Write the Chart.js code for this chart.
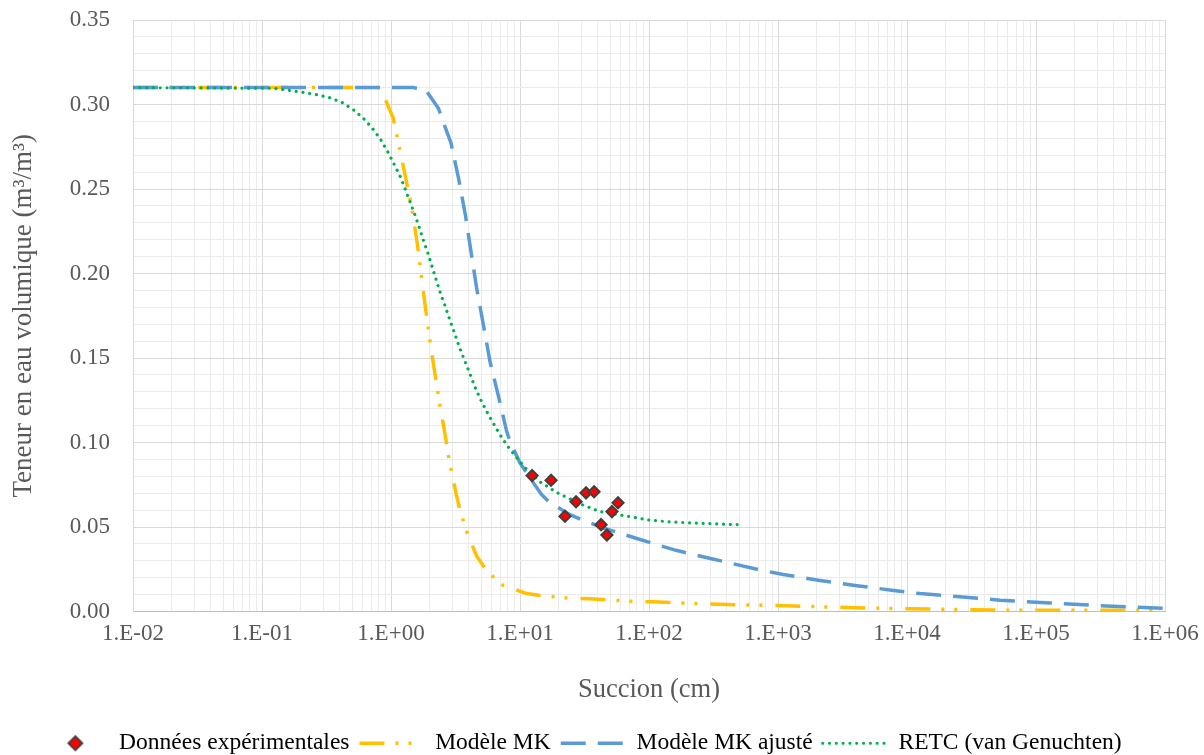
<!DOCTYPE html>
<html lang="fr">
<head>
<meta charset="utf-8">
<title>Courbe de rétention</title>
<script src="https://cdn.jsdelivr.net/npm/chart.js@4.4.0/dist/chart.umd.min.js"></script>
<style>
  body { margin: 0; background: #ffffff; }
  #chart { display: block; }
</style>
</head>
<body>
<canvas id="chart" width="1204" height="755"></canvas>
<script>
// Données expérimentales
const expX = [12.4, 17.4, 22.3, 27.2, 32.5, 37.5, 42.5, 47.2, 51.6, 57.5];
const expY = [0.0804, 0.0776, 0.0563, 0.0649, 0.0702, 0.0708, 0.0514, 0.0453, 0.0591, 0.0643];

// Modèle MK
const mkX = [0.01, 0.1, 0.5, 0.8, 0.88, 1.04, 1.15, 1.21, 1.32, 1.45, 1.6, 1.75, 1.85, 1.97, 2.03, 2.17, 2.34, 2.43, 2.62, 2.82,
  2.96, 3.23, 3.41, 3.66, 3.93, 4.62, 5.28, 6.25, 7.42, 11.3, 14, 22.3, 34.9, 71.3, 107, 219, 343, 684, 1000, 2120,
  3300, 6750, 10200, 52600, 1e6];
const mkY = [0.31, 0.31, 0.31, 0.31, 0.305, 0.292, 0.276, 0.268, 0.254, 0.2387, 0.2176, 0.194, 0.1796, 0.1644, 0.1569, 0.1427, 0.1269, 0.119, 0.1052, 0.0899,
  0.082, 0.0682, 0.0607, 0.053, 0.0455, 0.0327, 0.0262, 0.0203, 0.0154, 0.0106, 0.0096, 0.0081, 0.0075, 0.0061, 0.0057, 0.0047, 0.0043, 0.0037, 0.0035, 0.0028,
  0.0024, 0.0018, 0.0016, 0.0008, 0.0007];

// Modèle MK ajusté
const ajX = [0.01, 1.48, 1.84, 2.33, 2.52, 2.92, 3.35, 3.77, 4.17, 4.61, 5.2, 5.85, 6.79, 7.88, 8.36, 10, 12.7, 14.7, 17.1, 24.4,
  30.6, 44.2, 56.2, 85.2, 108, 162, 306, 703, 1100, 2050, 3950, 7610, 12600, 52600, 128000, 388000, 1e6];
const ajY = [0.31, 0.31, 0.309, 0.2978, 0.2905, 0.2771, 0.2558, 0.2347, 0.213, 0.1914, 0.1697, 0.148, 0.1277, 0.1066, 0.1007, 0.0879, 0.0761, 0.0692, 0.0643, 0.0573,
  0.054, 0.0495, 0.0469, 0.0426, 0.0402, 0.0362, 0.0312, 0.0248, 0.0219, 0.0185, 0.0154, 0.0126, 0.0106, 0.0067, 0.0051, 0.0031, 0.0018];

// RETC (van Genuchten)
const rcX = [0.01, 0.122, 0.2, 0.257, 0.327, 0.415, 0.505, 0.61, 0.721, 0.836, 0.942, 1.054, 1.18, 1.29, 1.41, 1.54, 1.66, 1.79, 1.95, 2.1,
  2.26, 2.44, 2.66, 2.87, 3.12, 3.37, 3.7, 4.05, 4.42, 4.9, 5.48, 6.18, 7.0, 8.03, 9.32, 10.9, 14.3, 19.5, 30.1, 41.7,
  63.2, 102, 147, 214, 315, 500];
const rcY = [0.31, 0.3096, 0.3074, 0.306, 0.3043, 0.3013, 0.2972, 0.2919, 0.2857, 0.279, 0.2721, 0.2649, 0.2574, 0.2499, 0.242, 0.2343, 0.227, 0.2192, 0.2111, 0.2032,
  0.1953, 0.1874, 0.1797, 0.172, 0.1644, 0.1569, 0.149, 0.1415, 0.1338, 0.1261, 0.1188, 0.1117, 0.1046, 0.0977, 0.0915, 0.0853, 0.0767, 0.0702, 0.0633, 0.0591,
  0.0568, 0.054, 0.053, 0.0524, 0.0519, 0.0514];

// axes
const xDecades = [-2, -1, 0, 1, 2, 3, 4, 5, 6];
const xTickLabels = ["1.E-02", "1.E-01", "1.E+00", "1.E+01", "1.E+02", "1.E+03", "1.E+04", "1.E+05", "1.E+06"];
const yMinorSteps = 35;   // 0.00 .. 0.35 every 0.01
const yLabelEvery = 5;

const seriesNames = ["Données expérimentales", "Modèle MK", "Modèle MK ajusté", "RETC (van Genuchten)"];

const toPoints = (xs, ys) => xs.map((x, i) => ({ x: x, y: ys[i] }));

const FONT = "'Liberation Serif', 'Times New Roman', serif";
const TEXT = "#595959";
const YELLOW = "#FFC000";
const BLUE = "#5B9BD5";
const GREEN = "#00B050";
const MAJOR_GRID = "#D9D9D9";
const MINOR_GRID = "#EBEBEB";
const mkDash = [25, 11, 3, 10, 3, 13];
const ajDash = [25, 12];
const rcDash = [0.01, 6.8];

// little diamond used as the legend symbol of the measured points
const diamondIcon = document.createElement("canvas");
diamondIcon.width = 18;
diamondIcon.height = 18;
const dctx = diamondIcon.getContext("2d");
dctx.beginPath();
dctx.moveTo(9, 2);
dctx.lineTo(16, 9);
dctx.lineTo(9, 16);
dctx.lineTo(2, 9);
dctx.closePath();
dctx.fillStyle = "#FF0000";
dctx.fill();
dctx.lineWidth = 1.8;
dctx.strokeStyle = "#404040";
dctx.stroke();

const lineSet = (label, xs, ys, color, dash, width, order, cap) => ({
    label: label,
    data: toPoints(xs, ys),
    showLine: true,
    borderColor: color,
    backgroundColor: color,
    borderWidth: width,
    borderDash: dash,
    borderCapStyle: cap || "butt",
    pointRadius: 0,
    pointHoverRadius: 0,
    tension: 0,
    order: order
});

new Chart(document.getElementById("chart").getContext("2d"), {
    type: "scatter",
    data: {
        datasets: [
            {
                label: seriesNames[0],
                data: toPoints(expX, expY),
                pointStyle: "rectRot",
                pointRadius: 5.6,
                pointHoverRadius: 5.6,
                backgroundColor: "#FF0000",
                borderColor: "#404040",
                borderWidth: 2,
                order: 0
            },
            lineSet(seriesNames[1], mkX, mkY, YELLOW, mkDash, 3.5, 3),
            lineSet(seriesNames[2], ajX, ajY, BLUE, ajDash, 3.5, 2),
            lineSet(seriesNames[3], rcX, rcY, GREEN, rcDash, 3.2, 1, "round")
        ]
    },
    options: {
        responsive: false,
        animation: false,
        layout: { padding: { left: 0, right: 39, top: 20, bottom: -10 } },
        plugins: {
            tooltip: { enabled: false },
            legend: {
                position: "bottom",
                labels: {
                    usePointStyle: true,
                    pointStyleWidth: 64,
                    padding: 10,
                    color: TEXT,
                    font: { family: FONT, size: 23.5 },
                    generateLabels: () => [
                        { text: seriesNames[0], pointStyle: diamondIcon, fillStyle: "#FF0000", strokeStyle: "#404040", lineWidth: 0, datasetIndex: 0 },
                        { text: seriesNames[1], pointStyle: "line", strokeStyle: YELLOW, lineWidth: 3.5, lineDash: mkDash, datasetIndex: 1 },
                        { text: seriesNames[2], pointStyle: "line", strokeStyle: BLUE, lineWidth: 3.5, lineDash: ajDash, datasetIndex: 2 },
                        { text: seriesNames[3], pointStyle: "line", strokeStyle: GREEN, lineWidth: 3.2, lineDash: rcDash, lineCap: "round", datasetIndex: 3 }
                    ]
                }
            }
        },
        scales: {
            x: {
                type: "logarithmic",
                min: 0.01,
                max: 1e6,
                afterBuildTicks: (scale) => {
                    const ticks = [];
                    xDecades.forEach((e, i) => {
                        const last = i === xDecades.length - 1;
                        for (let k = 1; k <= (last ? 1 : 9); k++) {
                            ticks.push({ value: k * Math.pow(10, e) });
                        }
                    });
                    scale.ticks = ticks;
                },
                // legend box is 43px high, so this puts the axis line at y = 612
                afterFit: (scale) => { scale.height = 110; },
                grid: {
                    drawTicks: true,
                    tickLength: 6,
                    tickColor: "rgba(0,0,0,0)",
                    color: (ctx) => (ctx.index % 9 === 0 ? MAJOR_GRID : MINOR_GRID),
                    lineWidth: 1
                },
                border: { color: "#BFBFBF", width: 1 },
                ticks: {
                    autoSkip: false,
                    maxRotation: 0,
                    minRotation: 0,
                    padding: 3,
                    color: TEXT,
                    font: { family: FONT, size: 23 },
                    callback: (value, index) => (index % 9 === 0 ? xTickLabels[index / 9] : "")
                },
                title: {
                    display: true,
                    text: "Succion (cm)",
                    color: TEXT,
                    font: { family: FONT, size: 26.5 },
                    padding: { top: 0, bottom: 16 }
                }
            },
            y: {
                min: 0,
                max: 0.35,
                afterBuildTicks: (scale) => {
                    const ticks = [];
                    for (let i = 0; i <= yMinorSteps; i++) ticks.push({ value: i / 100 });
                    scale.ticks = ticks;
                },
                afterFit: (scale) => { scale.width = 133; },
                grid: {
                    drawTicks: true,
                    tickLength: 20,
                    tickColor: "rgba(0,0,0,0)",
                    color: (ctx) => (ctx.index % yLabelEvery === 0 ? MAJOR_GRID : MINOR_GRID),
                    lineWidth: 1
                },
                border: { color: MAJOR_GRID, width: 1 },
                ticks: {
                    autoSkip: false,
                    padding: 3,
                    color: TEXT,
                    font: { family: FONT, size: 23 },
                    callback: (value, index) => (index % yLabelEvery === 0 ? (index / 100).toFixed(2) : "")
                },
                title: {
                    display: true,
                    text: "Teneur en eau volumique (m³/m³)",
                    color: TEXT,
                    font: { family: FONT, size: 27 },
                    padding: { top: 8, bottom: 0 }
                }
            }
        }
    }
});
</script>
</body>
</html>
